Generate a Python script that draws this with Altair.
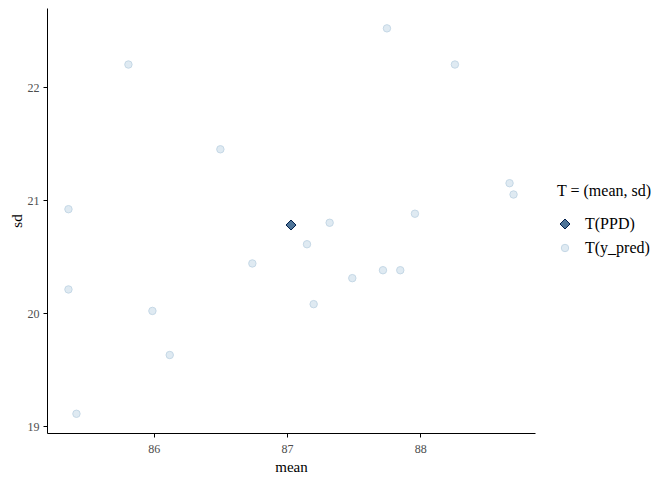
import altair as alt
import pandas as pd

rep_mean = [85.81, 87.75, 88.26, 86.50, 85.36, 88.67, 88.70, 87.32, 87.96, 87.15,
            86.74, 87.49, 87.72, 87.85, 87.20, 85.36, 85.99, 86.12, 85.42]
rep_sd = [22.20, 22.52, 22.20, 21.45, 20.92, 21.15, 21.05, 20.80, 20.88, 20.61,
          20.44, 20.31, 20.38, 20.38, 20.08, 20.21, 20.02, 19.63, 19.11]
obs_mean = [87.03]
obs_sd = [20.78]

labels = ["T(PPD)", "T(y_pred)"]

df = pd.DataFrame({
    "mean": rep_mean + obs_mean,
    "sd": rep_sd + obs_sd,
    "series": [labels[1]] * len(rep_mean) + [labels[0]] * len(obs_mean),
})

font = "Liberation Serif"
leg = alt.Legend(title="T = (mean, sd)", orient="none", legendX=510, legendY=175,
                 titleFont=font, titleFontSize=16, titleFontWeight="normal", titleColor="black",
                 labelFont=font, labelFontSize=16, labelColor="black", symbolSize=90,
                 rowPadding=8, titlePadding=17, labelOffset=12, symbolStrokeWidth=1)

color_scale = alt.Scale(domain=labels, range=["#4e7498", "#dfeaf2"])
stroke_scale = alt.Scale(domain=labels, range=["#011f4b", "#c5d8e6"])
shape_scale = alt.Scale(domain=labels, range=["diamond", "circle"])
size_scale = alt.Scale(domain=labels, range=[100, 55])

x = alt.X("mean:Q", title="mean", scale=alt.Scale(domain=[85.199, 88.861], nice=False, zero=False),
          axis=alt.Axis(values=[86, 87, 88], grid=False, domainColor="black", tickColor="black",
                        tickSize=4, labelColor="#4d4d4d", labelFont=font, labelFontSize=12,
                        titleFont=font, titleFontSize=15, titleFontWeight="normal", titleColor="black",
                        labelPadding=6, titlePadding=5))
y = alt.Y("sd:Q", title="sd", scale=alt.Scale(domain=[18.94, 22.70], nice=False, zero=False),
          axis=alt.Axis(values=[19, 20, 21, 22], grid=False, domainColor="black", tickColor="black",
                        tickSize=4, labelColor="#4d4d4d", labelFont=font, labelFontSize=12,
                        titleFont=font, titleFontSize=15, titleFontWeight="normal", titleColor="black",
                        labelPadding=4, titlePadding=3))

enc = dict(
    x=x, y=y,
    color=alt.Color("series:N", scale=color_scale, legend=leg),
    stroke=alt.Stroke("series:N", scale=stroke_scale, legend=leg),
    shape=alt.Shape("series:N", scale=shape_scale, legend=leg),
    size=alt.Size("series:N", scale=size_scale, legend=None),
)

base = alt.Chart(df)
rep = base.transform_filter(alt.datum.series == labels[1]).mark_point(filled=True, opacity=1, strokeWidth=1).encode(**enc)
obs = base.transform_filter(alt.datum.series == labels[0]).mark_point(filled=True, opacity=1, strokeWidth=1).encode(**enc)

chart = alt.layer(rep, obs).properties(
    width=488, height=425,
    autosize=alt.AutoSizeParams(type="none"),
    padding={"left": 39, "top": 0, "right": 125, "bottom": 44},
).configure_view(stroke=None)

chart.save("out.html", embed_options={"renderer": "svg", "actions": False})
